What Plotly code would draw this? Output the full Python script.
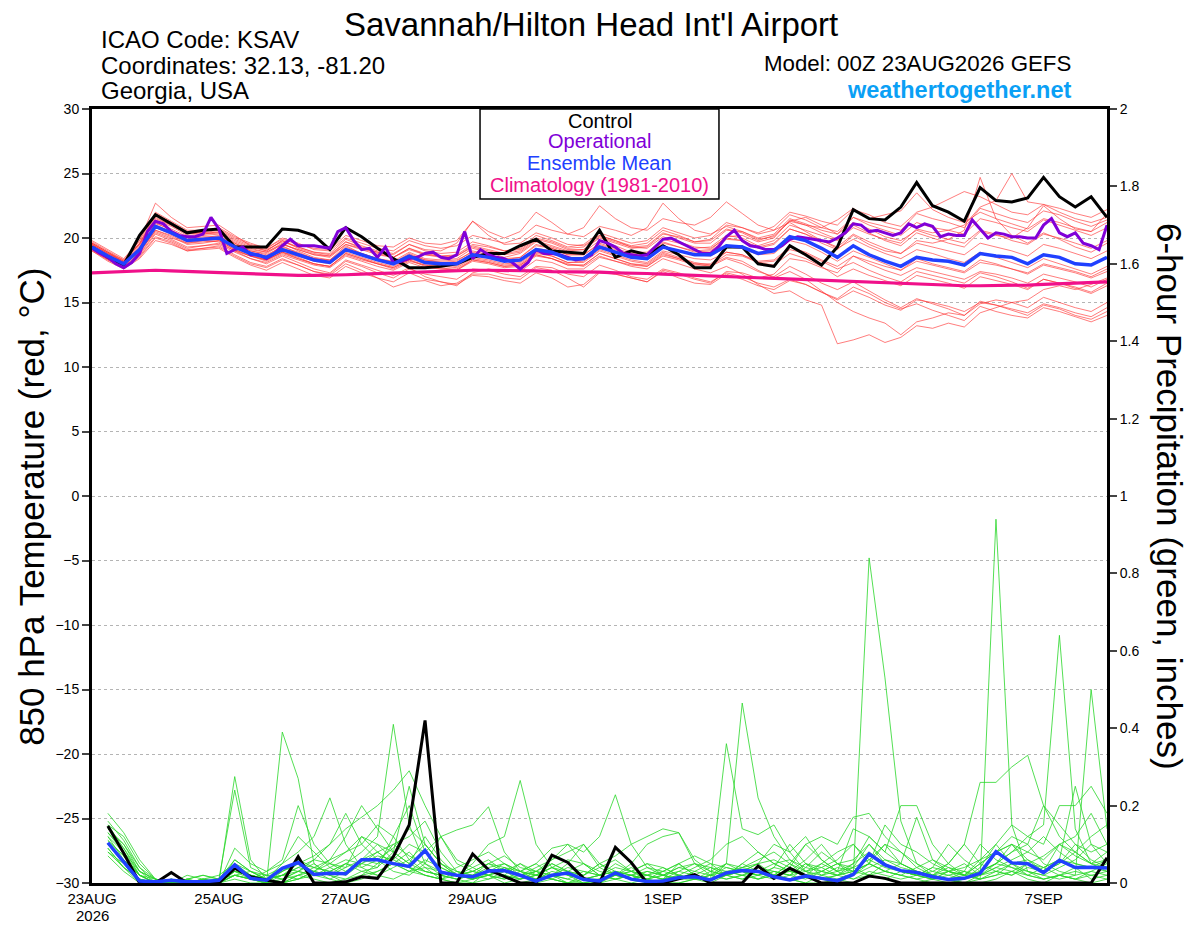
import pandas as pd
import plotly.graph_objects as go

# GEFS 00Z 23AUG2026, Savannah (KSAV)
temp_times = pd.date_range("2026-08-23 00:00", periods=65, freq="6h")
oper_times = pd.date_range("2026-08-23 00:00", periods=129, freq="3h")
precip_times = pd.date_range("2026-08-23 06:00", periods=64, freq="6h")

tick_dates = ["2026-08-23", "2026-08-25", "2026-08-27", "2026-08-29",
              "2026-09-01", "2026-09-03", "2026-09-05", "2026-09-07"]
tick_text = ["23AUG", "25AUG", "27AUG", "29AUG",
             "1SEP", "3SEP", "5SEP", "7SEP"]
year_label = "2026"

# 850 hPa temperature (C)
control_temp = [19.3, 18.5, 17.9, 20.2, 21.8, 21.1, 20.4, 20.6,
                20.7, 19.3, 19.3, 19.3, 20.7, 20.6, 20.2, 19.1,
                20.8, 20.1, 19.2, 18.4, 17.7, 17.7, 17.8, 18.0,
                18.5, 18.8, 18.8, 19.4, 19.9, 19.0, 18.9, 18.8,
                20.6, 18.5, 19.0, 18.7, 19.4, 18.7, 17.7, 17.7,
                19.3, 19.3, 18.0, 17.8, 19.4, 18.7, 17.9, 19.3,
                22.2, 21.5, 21.4, 22.4, 24.3, 22.5, 22.0, 21.3,
                23.9, 22.9, 22.8, 23.1, 24.7, 23.2, 22.4, 23.2,
                21.6]

oper_temp = [19.2, 18.8, 18.5, 18.0, 17.7, 18.1, 18.8, 20.5, 21.3, 21.1,
             20.5, 20.2, 20.1, 20.1, 20.3, 21.6, 20.7, 18.8, 19.1, 19.3,
             18.7, 18.7, 18.4, 18.8, 19.4, 19.9, 19.4, 19.4, 19.4, 19.3,
             19.2, 20.5, 20.8, 19.8, 19.1, 19.2, 18.5, 19.3, 18.1, 18.2,
             18.4, 18.5, 18.8, 18.9, 18.5, 18.4, 18.7, 20.5, 18.4, 19.1,
             18.7, 18.5, 18.4, 18.1, 17.6, 18.1, 19.1, 18.8, 18.8, 18.7,
             18.5, 18.3, 18.4, 18.7, 19.8, 19.6, 19.3, 18.8, 18.7, 18.6,
             18.7, 19.3, 19.9, 20.0, 19.7, 19.4, 19.1, 18.8, 18.8, 19.3,
             20.1, 20.6, 19.8, 19.4, 19.3, 19.1, 19.1, 19.4, 19.9, 20.1,
             20.0, 19.9, 19.8, 19.7, 20.0, 20.4, 21.1, 21.0, 20.5, 20.6,
             20.4, 20.2, 20.4, 21.1, 20.8, 21.1, 20.9, 20.1, 20.3, 20.2,
             20.2, 21.4, 20.7, 20.0, 20.4, 20.3, 20.1, 20.1, 20.0, 20.0,
             21.0, 21.5, 20.4, 20.1, 20.4, 19.6, 19.4, 19.1, 21.0]

mean_temp = [19.3, 18.6, 18.0, 19.1, 20.9, 20.4, 19.8, 19.9,
             20.0, 19.3, 18.8, 18.5, 19.1, 18.7, 18.3, 18.1,
             19.1, 18.7, 18.3, 18.0, 18.6, 18.1, 18.0, 18.0,
             18.7, 18.5, 18.2, 18.3, 19.1, 18.9, 18.4, 18.4,
             19.3, 18.9, 18.5, 18.4, 19.3, 19.0, 18.7, 18.7,
             19.4, 19.3, 18.8, 19.0, 20.1, 19.8, 19.2, 18.5,
             19.4, 18.7, 18.2, 17.8, 18.5, 18.3, 18.2, 17.9,
             18.8, 18.6, 18.5, 18.0, 18.7, 18.5, 18.0, 17.9,
             18.5]

clim_temp = [17.3, 17.35, 17.4, 17.45, 17.5, 17.45, 17.4, 17.35,
             17.3, 17.25, 17.2, 17.15, 17.1, 17.1, 17.1, 17.1,
             17.15, 17.2, 17.25, 17.3, 17.35, 17.4, 17.45, 17.5,
             17.5, 17.5, 17.5, 17.45, 17.45, 17.4, 17.4, 17.35,
             17.35, 17.3, 17.3, 17.25, 17.2, 17.15, 17.1, 17.05,
             17.0, 16.95, 16.9, 16.85, 16.8, 16.75, 16.7, 16.65,
             16.6, 16.55, 16.5, 16.45, 16.4, 16.35, 16.3, 16.3,
             16.3, 16.3, 16.3, 16.35, 16.4, 16.45, 16.5, 16.55,
             16.6]

member_temp = [
    [19.6, 18.9, 18.2, 19.8, 22.7, 21.6, 20.8, 20.9, 21.0, 20.2, 19.4, 19.0, 19.8, 19.2, 18.8, 18.6,
     19.5, 19.2, 18.9, 18.5, 19.2, 18.8, 18.6, 18.7, 19.5, 19.3, 19.0, 19.2, 20.2, 19.8, 19.3, 19.5,
     20.4, 20.0, 19.6, 19.8, 20.8, 20.4, 20.0, 20.2, 21.2, 20.8, 20.3, 20.6, 21.8, 21.4, 20.8, 20.5,
     21.6, 21.0, 20.6, 20.2, 21.2, 20.8, 20.6, 20.3, 21.5, 21.2, 20.8, 20.5, 21.4, 21.0, 20.6, 20.2, 20.8],
    [19.0, 18.2, 17.6, 18.4, 19.8, 19.5, 19.0, 19.2, 19.3, 18.6, 18.0, 17.7, 18.3, 17.9, 17.4, 17.2,
     18.2, 17.8, 17.3, 16.9, 17.6, 17.2, 17.0, 16.8, 17.6, 17.5, 17.2, 17.0, 17.8, 17.7, 17.2, 17.0,
     17.9, 17.5, 17.0, 16.8, 17.6, 17.3, 16.9, 16.6, 17.3, 17.0, 16.5, 16.2, 16.8, 16.4, 15.8, 15.2,
     15.9, 15.4, 14.8, 14.4, 15.2, 15.0, 14.7, 14.3, 15.0, 14.8, 14.5, 14.2, 14.9, 14.6, 14.2, 13.9, 14.6],
    [19.4, 18.7, 18.0, 19.0, 20.5, 20.0, 19.6, 19.8, 19.7, 19.0, 18.6, 18.2, 18.8, 18.4, 18.0, 17.8,
     18.7, 18.3, 18.0, 17.6, 18.2, 17.9, 17.7, 17.5, 18.3, 18.1, 17.8, 17.9, 18.7, 18.4, 18.0, 17.8,
     18.6, 18.2, 17.8, 17.6, 18.4, 18.0, 17.6, 17.3, 17.8, 17.2, 16.4, 15.7, 15.9, 15.2, 14.8, 11.8,
     12.1, 12.5, 11.9, 12.3, 13.2, 13.0, 13.4, 13.1, 14.2, 14.6, 15.0, 15.2, 16.0, 16.3, 16.0, 16.4, 16.9],
    [19.5, 18.8, 18.1, 19.4, 21.5, 21.0, 20.4, 20.3, 20.4, 19.6, 19.1, 18.9, 19.6, 19.0, 18.5, 18.3,
     19.4, 18.8, 18.4, 18.2, 18.9, 18.4, 18.3, 18.4, 19.2, 18.9, 18.5, 18.8, 19.7, 19.3, 18.9, 18.9,
     19.8, 19.4, 18.9, 18.9, 19.9, 19.6, 19.2, 19.3, 20.2, 20.0, 19.4, 19.8, 21.0, 20.6, 20.2, 19.8,
     20.8, 20.3, 19.9, 19.6, 20.7, 20.4, 20.6, 21.0, 22.4, 22.9, 25.0, 22.8, 22.6, 22.0, 21.5, 21.2, 21.6],
    [19.2, 18.5, 17.9, 19.2, 21.2, 20.6, 19.9, 20.0, 20.2, 19.4, 18.9, 18.6, 19.4, 18.8, 18.4, 18.2,
     19.3, 18.8, 18.4, 18.1, 18.8, 18.3, 18.1, 18.2, 19.0, 18.7, 18.4, 18.5, 19.5, 19.2, 18.7, 18.7,
     19.6, 19.2, 18.8, 18.7, 19.7, 19.3, 18.9, 19.0, 19.9, 19.8, 19.3, 19.6, 20.7, 20.3, 19.6, 19.1,
     20.2, 19.5, 19.0, 18.8, 19.8, 19.6, 19.9, 20.6, 24.7, 21.5, 20.2, 19.6, 20.4, 19.9, 19.3, 18.9, 19.6],
    [19.1, 18.3, 17.7, 18.6, 20.1, 19.7, 19.1, 19.2, 19.4, 18.7, 18.1, 17.8, 18.4, 17.9, 17.4, 17.1,
     18.0, 17.5, 16.9, 16.2, 16.6, 16.7, 16.3, 16.5, 17.2, 17.2, 16.9, 16.8, 17.7, 17.5, 16.9, 16.2,
     17.3, 17.2, 16.9, 16.6, 17.4, 16.9, 16.5, 16.4, 17.2, 16.8, 16.3, 16.0, 16.7, 16.4, 15.8, 15.3,
     16.2, 15.7, 15.0, 14.5, 14.9, 14.4, 14.0, 13.6, 14.7, 14.3, 14.0, 13.8, 14.6, 14.3, 13.9, 13.5, 14.0],
    [19.8, 19.1, 18.4, 19.8, 22.0, 21.3, 20.6, 20.6, 20.8, 20.1, 19.6, 19.2, 19.9, 19.5, 19.2, 19.1,
     20.2, 19.8, 19.4, 19.3, 20.0, 19.6, 19.5, 19.8, 21.3, 20.5, 20.0, 20.5, 22.0, 21.2, 20.3, 20.1,
     20.9, 20.6, 20.2, 20.8, 22.7, 21.5, 20.6, 20.3, 20.9, 20.5, 19.9, 20.1, 21.3, 21.6, 21.0, 20.3,
     21.2, 20.7, 20.1, 19.8, 20.6, 20.2, 19.9, 19.6, 20.6, 20.3, 19.8, 19.5, 20.3, 20.0, 19.6, 19.2, 19.8],
    [19.3, 18.6, 18.1, 19.0, 20.8, 20.3, 19.7, 19.8, 19.9, 19.2, 18.7, 18.3, 18.9, 18.6, 18.2, 18.0,
     18.9, 18.5, 18.1, 17.8, 18.4, 18.0, 17.9, 17.8, 18.5, 18.3, 18.0, 18.1, 18.9, 18.6, 18.1, 18.2,
     19.1, 18.7, 18.3, 18.1, 19.0, 18.7, 18.4, 18.3, 18.9, 18.7, 18.1, 17.9, 18.8, 18.4, 17.8, 17.0,
     17.6, 17.1, 16.7, 16.3, 17.1, 16.8, 16.5, 16.1, 17.0, 16.7, 16.4, 16.0, 16.8, 16.5, 16.1, 15.7, 16.3],
    [19.5, 18.8, 18.2, 19.5, 21.8, 21.2, 20.5, 20.4, 20.4, 19.7, 19.2, 18.9, 19.5, 19.1, 18.7, 18.6,
     19.7, 19.2, 18.8, 18.5, 19.2, 18.7, 18.5, 18.6, 19.4, 19.1, 18.8, 19.0, 19.9, 19.6, 19.1, 19.1,
     20.1, 19.7, 19.3, 19.4, 20.4, 20.0, 19.6, 19.6, 20.6, 20.5, 20.0, 20.3, 21.5, 21.1, 20.6, 20.3,
     21.6, 21.2, 20.9, 20.6, 21.9, 21.5, 21.2, 20.8, 22.3, 21.9, 21.5, 21.2, 22.1, 21.8, 21.3, 20.9, 21.4],
    [19.2, 18.4, 17.8, 18.8, 20.4, 19.9, 19.3, 19.4, 19.5, 18.9, 18.4, 18.0, 18.6, 18.1, 17.6, 17.3,
     18.3, 17.9, 17.5, 17.1, 17.7, 17.0, 16.6, 16.3, 17.3, 17.6, 17.4, 17.4, 18.3, 18.1, 17.6, 17.6,
     18.5, 18.2, 17.9, 17.8, 18.6, 18.3, 17.9, 17.9, 18.7, 18.6, 18.1, 18.2, 19.1, 18.8, 18.2, 17.6,
     18.1, 17.5, 17.0, 16.6, 17.4, 17.1, 16.8, 16.5, 17.3, 17.0, 16.6, 16.1, 16.8, 16.5, 16.2, 15.8, 16.5],
    [19.6, 18.9, 18.3, 19.5, 21.4, 20.9, 20.2, 20.3, 20.5, 19.8, 19.3, 19.0, 19.8, 19.3, 18.9, 18.7,
     19.7, 19.3, 18.9, 18.7, 19.5, 19.1, 19.0, 19.6, 21.3, 20.2, 19.5, 19.6, 20.4, 20.0, 19.5, 19.4,
     20.2, 19.8, 19.3, 19.2, 20.1, 19.7, 19.3, 19.2, 20.0, 19.8, 19.2, 19.5, 20.7, 20.3, 19.8, 19.3,
     20.3, 19.7, 19.2, 18.8, 19.6, 19.3, 19.0, 18.7, 19.6, 19.3, 19.0, 18.6, 19.5, 19.2, 18.8, 18.4, 19.0],
    [19.3, 18.5, 17.9, 18.9, 20.6, 20.1, 19.5, 19.6, 19.8, 19.1, 18.6, 18.3, 18.9, 18.5, 18.0, 17.8,
     18.8, 18.4, 18.0, 17.7, 18.3, 17.9, 17.8, 17.7, 18.4, 18.2, 17.9, 18.0, 18.8, 18.6, 18.1, 18.1,
     19.0, 18.6, 18.2, 18.0, 18.9, 18.5, 18.1, 17.9, 18.5, 18.2, 17.5, 16.9, 17.4, 16.8, 15.9, 15.0,
     14.3, 13.8, 13.4, 12.5, 13.5, 13.8, 14.2, 14.0, 14.9, 15.2, 15.0, 14.6, 15.4, 15.0, 14.6, 14.3, 15.0],
    [19.4, 18.7, 18.0, 19.2, 21.0, 20.5, 19.9, 20.1, 20.1, 19.5, 19.0, 18.7, 19.3, 18.9, 18.4, 18.3,
     19.2, 18.7, 18.3, 18.0, 18.7, 18.3, 18.2, 18.3, 18.9, 18.6, 18.3, 18.5, 19.4, 19.2, 18.7, 18.7,
     19.5, 19.1, 18.7, 18.6, 19.6, 19.3, 19.0, 19.1, 20.1, 20.2, 19.7, 20.0, 21.4, 21.0, 20.4, 19.9,
     21.0, 20.4, 19.8, 19.4, 20.4, 20.0, 19.6, 19.3, 20.5, 20.2, 20.0, 20.8, 22.5, 21.5, 20.7, 20.5, 21.9],
    [19.1, 18.4, 17.8, 18.7, 20.3, 19.8, 19.2, 19.4, 19.6, 19.0, 18.4, 18.1, 18.7, 18.3, 17.9, 17.7,
     18.6, 18.2, 17.8, 17.5, 18.1, 17.7, 17.6, 17.5, 18.2, 18.0, 17.7, 17.8, 18.6, 18.4, 17.9, 17.9,
     18.8, 18.4, 18.0, 17.9, 18.8, 18.4, 18.0, 18.0, 18.9, 18.7, 18.2, 18.3, 19.3, 18.9, 18.3, 17.8,
     18.6, 18.0, 17.5, 17.1, 17.7, 17.4, 17.1, 16.8, 17.4, 17.2, 16.9, 16.5, 17.2, 16.9, 16.6, 16.2, 16.8],
    [19.7, 19.0, 18.3, 19.6, 21.9, 21.2, 20.4, 20.4, 20.6, 19.9, 19.4, 19.1, 19.7, 19.3, 18.9, 18.8,
     19.9, 19.4, 19.0, 18.8, 19.5, 19.0, 18.8, 18.9, 19.7, 19.4, 19.0, 19.1, 20.0, 19.7, 19.2, 19.3,
     20.2, 19.8, 19.4, 19.6, 20.6, 20.2, 19.7, 19.8, 20.7, 20.4, 19.8, 20.2, 21.3, 21.0, 20.8, 21.4,
     22.3, 21.5, 21.8, 22.1, 23.5, 22.2, 21.6, 21.2, 22.0, 21.5, 21.1, 20.7, 21.5, 21.2, 20.8, 20.5, 21.2],
    [19.4, 18.7, 18.1, 19.1, 20.9, 20.4, 19.8, 19.9, 20.0, 19.3, 18.8, 18.6, 19.2, 18.8, 18.4, 18.2,
     19.1, 18.8, 18.4, 18.1, 18.7, 18.2, 18.1, 18.1, 18.8, 18.6, 18.3, 18.3, 19.2, 19.0, 18.5, 18.5,
     19.4, 19.0, 18.6, 18.5, 19.3, 19.0, 18.7, 18.6, 19.3, 19.2, 18.7, 18.8, 19.8, 19.5, 18.9, 18.2,
     19.0, 18.5, 18.0, 17.5, 18.2, 17.9, 17.6, 17.3, 18.1, 17.9, 17.6, 17.2, 17.9, 17.6, 17.3, 16.9, 17.4],
    [19.5, 18.8, 18.2, 19.6, 21.6, 21.0, 20.3, 20.5, 20.7, 20.0, 19.5, 19.2, 20.0, 19.6, 19.1, 19.0,
     20.0, 19.6, 19.2, 19.0, 19.8, 19.4, 19.2, 19.4, 20.2, 19.9, 19.6, 20.0, 21.0, 20.6, 20.3, 20.8,
     22.5, 21.5, 20.8, 20.6, 21.5, 21.2, 21.0, 21.6, 22.8, 21.9, 21.0, 20.6, 21.2, 20.5, 19.8, 19.2,
     19.9, 19.3, 18.8, 18.4, 19.1, 18.8, 18.4, 18.1, 18.9, 18.5, 18.1, 17.7, 18.4, 18.0, 17.6, 17.2, 17.8],
    [19.0, 18.3, 17.7, 18.5, 20.0, 19.6, 19.0, 19.1, 19.2, 18.5, 17.9, 17.5, 18.1, 17.6, 17.1, 16.9,
     17.8, 17.3, 16.9, 16.6, 17.3, 16.8, 16.6, 16.4, 17.1, 17.0, 16.7, 16.5, 17.3, 16.9, 16.2, 16.4,
     17.4, 17.2, 16.9, 16.6, 17.5, 17.2, 16.8, 16.5, 17.4, 17.3, 16.9, 17.2, 18.4, 18.2, 17.7, 17.3,
     18.6, 18.2, 17.8, 17.5, 18.4, 18.0, 17.7, 17.4, 18.3, 18.0, 17.6, 17.3, 18.0, 17.7, 17.4, 17.0, 17.6],
    [19.6, 18.9, 18.1, 19.3, 21.1, 20.7, 20.1, 20.2, 20.3, 19.6, 19.0, 18.8, 19.5, 19.1, 18.7, 18.5,
     19.5, 19.1, 18.7, 18.5, 19.1, 18.7, 18.6, 18.6, 19.3, 19.0, 18.7, 18.9, 19.8, 19.4, 19.0, 19.1,
     20.0, 19.6, 19.2, 19.3, 20.3, 20.1, 19.7, 19.9, 21.0, 20.8, 20.4, 20.9, 22.0, 21.7, 21.3, 21.0,
     22.2, 21.8, 21.2, 20.9, 22.0, 22.4, 23.0, 23.6, 23.2, 22.6, 22.0, 21.8, 22.6, 22.3, 21.9, 21.6, 22.2],
    [19.2, 18.5, 17.9, 18.9, 20.6, 20.2, 19.6, 19.7, 19.8, 19.1, 18.6, 18.3, 18.9, 18.4, 18.0, 17.8,
     18.8, 18.4, 18.0, 17.7, 18.3, 17.8, 17.6, 17.6, 18.3, 18.1, 17.8, 17.9, 18.7, 18.4, 17.9, 17.9,
     18.8, 18.4, 18.0, 17.8, 18.7, 18.4, 18.0, 17.8, 18.4, 18.0, 17.4, 17.0, 17.8, 17.2, 16.5, 16.0,
     16.6, 15.9, 15.2, 14.6, 15.3, 14.9, 14.5, 14.0, 15.1, 14.8, 14.4, 14.0, 14.8, 14.5, 14.0, 13.7, 14.3],
]

# 6-hour precipitation (inches)
control_precip = [.147, .077, 0, 0, .027, 0, 0, 0,
                  .038, .016, .007, 0, .068, 0, 0, .003,
                  .016, .012, .068, .15, .42, 0, 0, .075,
                  .034, .018, 0, 0, .072, .053, .012, 0,
                  .092, .053, 0, 0, .012, .022, 0, 0,
                  0, .044, .012, .038, .02, 0, 0, 0,
                  .018, .012, 0, 0, 0, 0, 0, 0,
                  0, 0, 0, 0, 0, 0, 0, .065]

mean_precip = [.104, .055, .005, .003, .007, .003, .003, .007,
               .047, .012, .007, .038, .053, .022, .025, .024,
               .06, .06, .05, .043, .084, .028, .02, .016,
               .031, .032, .02, .005, .02, .026, .009, .005,
               .026, .01, .004, .005, .014, .016, .008, .026,
               .032, .03, .016, .008, .018, .012, .006, .022,
               .075, .047, .032, .027, .016, .009, .012, .025,
               .081, .052, .05, .027, .059, .04, .041, .039]

member_precip = [
    [.15, .09, .02, 0, 0, .01, 0, 0, .04, .01, 0, .39, .27, .05, .02, 0,
     .01, .03, .05, .08, .04, .01, .02, .03, .02, 0, .01, .02, .04, .02, 0, 0,
     .03, .02, 0, .01, .02, .01, 0, .02, .03, .01, .02, .01, 0, 0, .01, .02,
     .84, .53, .16, .05, .02, .01, 0, 0, .01, .03, .02, .01, .02, .04, .01, .02],
    [.12, .06, .01, 0, .01, 0, 0, 0, .02, .01, 0, .03, .06, .04, .03, .05,
     .08, .12, .41, .15, .05, .02, .01, 0, .03, .05, .02, 0, .01, 0, .01, .02,
     .05, .03, .01, 0, 0, .01, .02, .04, .03, .05, .02, .01, 0, .02, .04, .03,
     .02, .01, 0, 0, .01, .02, .03, .01, .94, .15, .03, .01, .02, .01, 0, .01],
    [.18, .13, .06, .01, 0, 0, .01, 0, .275, .06, .01, 0, .02, .03, .01, 0,
     .02, .05, .07, .04, .02, .01, 0, 0, .01, .02, .05, .03, .01, 0, 0, .01,
     .02, .01, 0, 0, .01, .02, .01, .05, .465, .22, .12, .06, .03, .01, 0, .02,
     .05, .03, .02, .01, 0, 0, .01, .03, .05, .04, .02, .01, .02, .03, .02, .01],
    [.1, .05, 0, 0, 0, .01, .02, .01, .24, .04, .02, .01, .03, .05, .02, .01,
     .03, .02, .04, .06, .1, .05, .02, .01, .02, .01, .03, .05, .02, 0, 0, .01,
     .02, .01, .03, .02, .01, .01, .01, .36, .14, .125, .15, .08, .03, .02, .01, 0,
     .02, .01, .03, .02, .01, 0, 0, .02, .04, .03, .01, 0, .02, .01, .02, .03],
    [.09, .04, .01, 0, 0, 0, 0, 0, .03, .02, .01, .02, .05, .07, .1, .14,
     .17, .2, .24, .29, .2, .12, .05, .03, .02, .04, .03, .02, .01, .03, .05, .02,
     .01, 0, .01, .03, .05, .02, .01, .02, .01, .03, .02, .05, .1, .06, .03, .05,
     .12, .08, .2, .2, .1, .05, .02, .01, .02, .03, .05, .04, .02, .01, .03, .05],
    [.14, .1, .03, .01, 0, 0, .01, .02, .05, .03, .01, .02, .03, .02, .04, .06,
     .05, .08, .1, .07, .05, .03, .02, .05, .1, .12, .265, .1, .04, .02, .01, 0,
     .02, .03, .05, .04, .02, .01, .02, .01, .02, .01, .03, .02, .05, .04, .02, .01,
     .03, .02, .01, .02, .04, .03, .01, .02, .05, .08, .12, .15, .64, .14, .05, .03],
    [.16, .11, .04, 0, .01, 0, 0, 0, .02, .01, .03, .05, .08, .12, .22, .1,
     .04, .02, .01, .03, .02, .01, .03, .02, .05, .04, .02, .03, .06, .1, .08, .12,
     .228, .1, .04, .02, .01, .03, .02, .05, .03, .02, .04, .1, .05, .02, .03, .04,
     .02, .05, .03, .02, .01, .03, .02, .05, .08, .12, .1, .05, .03, .02, .5, .14],
    [.11, .07, .02, 0, 0, .01, 0, 0, .04, .02, .01, .03, .05, .03, .06, .12,
     .2, .14, .08, .05, .03, .02, .01, .02, .03, .02, .01, .02, .04, .03, .02, .05,
     .07, .1, .12, .14, .13, .06, .03, .02, .05, .08, .05, .03, .02, .05, .08, .1,
     .06, .04, .03, .02, .03, .05, .1, .26, .26, .3, .33, .2, .12, .08, .05, .06],
    [.13, .08, .03, .01, 0, 0, 0, .01, .06, .03, .01, 0, .02, .04, .03, .02,
     .05, .07, .06, .1, .08, .12, .137, .15, .197, .08, .03, .01, .02, .04, .03, .02,
     .01, .02, .04, .03, .05, .02, .01, .03, .04, .05, .06, .04, .1, .12, .1, .17,
     .18, .12, .08, .05, .03, .02, .01, .04, .1, .15, .12, .1, .2, .2, .25, .18],
    [.08, .05, .01, 0, 0, .02, .01, 0, .09, .05, .03, .06, .2, .1, .05, .03,
     .06, .05, .1, .12, .16, .08, .03, .01, .02, .03, .01, .02, .05, .03, .01, .02,
     .04, .03, .02, .01, .05, .07, .05, .02, .03, .05, .1, .08, .12, .06, .03, .14,
     .12, .08, .05, .17, .06, .03, .02, .01, .03, .02, .05, .07, .1, .08, .05, .08],
    [.1, .06, .02, 0, 0, 0, 0, 0, .02, .01, 0, .02, .04, .06, .1, .18,
     .1, .06, .03, .02, .05, .12, .06, .04, .02, .01, .02, .03, .02, .05, .1, .04,
     .02, .05, .1, .12, .13, .05, .02, .01, .02, .03, .02, .01, .04, .08, .05, .03,
     .05, .1, .08, .04, .02, .05, .1, .05, .03, .02, .04, .03, .05, .1, .06, .04],
    [.09, .04, 0, 0, 0, 0, 0, 0, .01, 0, 0, .01, .02, .01, 0, .01,
     .02, .03, .05, .04, .02, .01, 0, .01, .03, .02, 0, .01, .02, .01, 0, 0,
     .01, .02, .01, 0, 0, .01, .02, .03, .02, .01, .02, .03, .02, .01, .02, .03,
     .05, .03, .02, .01, .02, .01, 0, .01, .02, .05, .03, .02, .01, .02, .03, .02],
    [.12, .08, .02, .01, 0, 0, 0, .01, .03, .02, .01, .03, .05, .04, .06, .08,
     .1, .15, .12, .06, .03, .02, .01, .02, .04, .05, .03, .05, .09, .1, .05, .02,
     .03, .01, .02, .04, .02, .01, .03, .05, .04, .03, .05, .06, .04, .03, .05, .06,
     .1, .05, .03, .02, .04, .1, .06, .03, .05, .08, .1, .2, .15, .1, .08, .1],
    [.07, .03, 0, 0, 0, .01, .02, .01, .03, .01, 0, 0, .01, .02, .03, .05,
     .04, .06, .09, .14, .1, .05, .03, .02, .01, .03, .05, .02, .01, 0, .02, .05,
     .03, .02, .01, .02, .04, .03, .05, .04, .03, .02, .01, .02, .03, .05, .03, .01,
     .02, .03, .05, .03, .02, .01, .02, .06, .1, .05, .02, .04, .06, .25, .1, .05],
    [.15, .12, .05, .01, 0, 0, 0, 0, .02, .03, .02, .01, .03, .06, .05, .04,
     .12, .08, .05, .03, .04, .03, .02, .04, .06, .03, .02, .04, .06, .08, .1, .05,
     .02, .03, .05, .02, .01, .02, .04, .02, .05, .03, .02, .05, .03, .04, .06, .1,
     .05, .15, .1, .08, .05, .03, .02, .05, .08, .1, .05, .03, .1, .12, .18, .1],
    [.1, .06, .02, 0, 0, 0, .01, 0, .05, .02, .01, .02, .01, .03, .02, .05,
     .03, .04, .08, .25, .1, .05, .02, .03, .05, .07, .04, .03, .02, .01, .03, .02,
     .01, .02, .03, .02, .03, .05, .04, .03, .02, .04, .03, .02, .05, .03, .02, .05,
     .08, .05, .03, .02, .01, .03, .05, .02, .03, .05, .06, .03, .05, .08, .12, .15],
    [.11, .07, .02, 0, 0, 0, 0, 0, .04, .02, .01, .05, .12, .08, .04, .02,
     .06, .1, .08, .05, .12, .06, .02, .01, .02, .04, .02, .01, .03, .02, .01, .01,
     .02, .04, .02, .01, .02, .01, .01, .02, .04, .06, .08, .05, .02, .03, .05, .04,
     .1, .06, .04, .03, .02, .04, .03, .02, .04, .06, .08, .12, .08, .05, .04, .06],
    [.13, .09, .03, 0, .01, 0, 0, 0, .06, .03, .01, 0, .01, .03, .05, .08,
     .12, .1, .06, .04, .03, .02, .04, .06, .08, .05, .03, .02, .04, .06, .05, .03,
     .02, .01, .02, .03, .02, .04, .06, .1, .12, .08, .05, .03, .06, .1, .05, .02,
     .04, .06, .05, .03, .02, .01, .03, .1, .06, .04, .03, .02, .04, .06, .1, .08],
    [.08, .04, .01, 0, 0, 0, .01, .01, .02, .01, .02, .04, .03, .02, .01, .03,
     .05, .04, .12, .2, .08, .04, .02, .01, .03, .02, .01, .03, .05, .03, .02, .04,
     .06, .03, .02, .01, .03, .02, .01, .02, .03, .02, .04, .03, .02, .01, .02, .04,
     .06, .1, .05, .03, .02, .03, .04, .06, .08, .1, .06, .04, .06, .05, .04, .03],
    [.14, .1, .04, .01, 0, 0, 0, 0, .03, .02, .01, .02, .04, .03, .02, .04,
     .06, .08, .05, .03, .06, .04, .02, .03, .05, .03, .02, .01, .02, .03, .01, .02,
     .03, .02, .01, .02, .04, .05, .03, .02, .01, .02, .03, .02, .01, .03, .02, .03,
     .05, .03, .02, .04, .06, .04, .02, .03, .05, .1, .08, .06, .1, .07, .05, .04],
]

RED = "rgba(255,50,50,0.8)"
GREEN = "rgb(40,215,40)"
BLACK = "black"
PURPLE = "#8000d8"
BLUE = "#2040ff"
PINK = "#f0108a"
FONT = "Liberation Sans, Arial, sans-serif"

fig = go.Figure()

for vals in member_temp:
    fig.add_trace(go.Scatter(x=temp_times, y=vals, mode="lines",
                             line=dict(color=RED, width=0.8)))

for vals in member_precip:
    fig.add_trace(go.Scatter(x=precip_times, y=vals, mode="lines", yaxis="y2",
                             line=dict(color=GREEN, width=0.8)))

fig.add_trace(go.Scatter(x=temp_times, y=clim_temp, mode="lines",
                         line=dict(color=PINK, width=3.2)))
fig.add_trace(go.Scatter(x=precip_times, y=control_precip, mode="lines", yaxis="y2",
                         line=dict(color=BLACK, width=3)))
fig.add_trace(go.Scatter(x=precip_times, y=mean_precip, mode="lines", yaxis="y2",
                         line=dict(color=BLUE, width=3.5)))
fig.add_trace(go.Scatter(x=temp_times, y=control_temp, mode="lines",
                         line=dict(color=BLACK, width=3)))
fig.add_trace(go.Scatter(x=oper_times, y=oper_temp, mode="lines",
                         line=dict(color=PURPLE, width=3)))
fig.add_trace(go.Scatter(x=temp_times, y=mean_temp, mode="lines",
                         line=dict(color=BLUE, width=3.5)))

# legend box
fig.add_shape(type="rect", xref="paper", yref="paper",
              x0=0.3823, x1=0.6177, y0=0.8837, y1=1.0,
              fillcolor="white", line=dict(color="black", width=1.5), layer="above")

legend_rows = [("Control", BLACK, 0.9845), ("Operational", PURPLE, 0.9587),
               ("Ensemble Mean", BLUE, 0.9302), ("Climatology (1981-2010)", PINK, 0.9018)]
for text, color, ypos in legend_rows:
    fig.add_annotation(text=text, x=0.5, y=ypos, xref="paper", yref="paper",
                       showarrow=False, xanchor="center", yanchor="middle",
                       font=dict(family=FONT, size=20, color=color))

header = [
    ("Savannah/Hilton Head Int'l Airport", 0.4916, 1.1098, "center", 33, "black", False),
    ("ICAO Code: KSAV", 0.0069, 1.0904, "left", 24, "black", False),
    ("Coordinates: 32.13, -81.20", 0.0069, 1.0568, "left", 24, "black", False),
    ("Georgia, USA", 0.0069, 1.0245, "left", 24, "black", False),
    ("Model: 00Z 23AUG2026 GEFS", 0.9665, 1.0594, "right", 22.3, "black", False),
    ("weathertogether.net", 0.9665, 1.0245, "right", 23.5, "#0aa0f5", True),
    (year_label, 0.0, -0.0426, "center", 15, "black", False),
]
for text, xpos, ypos, anchor, size, color, bold in header:
    fig.add_annotation(text="<b>%s</b>" % text if bold else text,
                       x=xpos, y=ypos, xref="paper", yref="paper",
                       showarrow=False, xanchor=anchor, yanchor="middle",
                       font=dict(family=FONT, size=size, color=color))

fig.add_annotation(text="850 hPa Temperature (red, °C)", x=-0.0591, y=0.486,
                   xref="paper", yref="paper", showarrow=False, textangle=-90,
                   xanchor="center", yanchor="middle",
                   font=dict(family=FONT, size=35, color="black"))
fig.add_annotation(text="6-hour Precipitation (green, inches)", x=1.0621, y=0.5,
                   xref="paper", yref="paper", showarrow=False, textangle=90,
                   xanchor="center", yanchor="middle",
                   font=dict(family=FONT, size=35, color="black"))

# the page body adds 8px, so margins are trimmed to land the plot at 92..1107 x 109..883
fig.update_layout(
    width=1200, height=927,
    margin=dict(l=84, r=101, t=101, b=52, autoexpand=False),
    paper_bgcolor="white", plot_bgcolor="white",
    showlegend=False,
    font=dict(family=FONT, color="black"),
    xaxis=dict(range=["2026-08-23 00:00", "2026-09-08 00:00"],
               tickvals=tick_dates, ticktext=tick_text, automargin=False,
               tickfont=dict(size=15), ticklabelstandoff=0,
               showgrid=False, zeroline=False,
               showline=True, linecolor="black", linewidth=3, mirror=True,
               ticks=""),
    yaxis=dict(range=[-30, 30], dtick=5, tick0=-30, automargin=False,
               tickfont=dict(size=14), ticks="outside", ticklen=7, tickwidth=1.5,
               showgrid=True, gridcolor="#b4b4b4", griddash="dot", gridwidth=1,
               zeroline=False, showline=True, linecolor="black", linewidth=3,
               mirror=True),
    yaxis2=dict(range=[0, 2], dtick=0.2, tick0=0, overlaying="y", side="right",
                automargin=False,
                tickfont=dict(size=14), ticks="outside", ticklen=7, tickwidth=1.5,
                showgrid=False, zeroline=False, showline=True,
                linecolor="black", linewidth=3),
)

fig.write_html("out.html")
